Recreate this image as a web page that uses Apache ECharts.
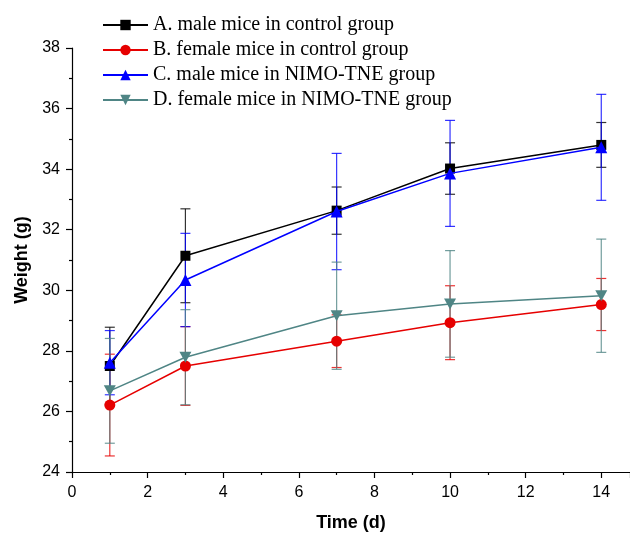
<!DOCTYPE html>
<html>
<head>
<meta charset="utf-8">
<script src="https://cdn.jsdelivr.net/npm/echarts@6/dist/echarts.min.js"></script>
<style>html,body{margin:0;padding:0;background:#fff}#c{width:630px;height:533px}</style>
</head>
<body>
<div id="c"></div>
<script>
const days = [1, 3, 7, 10, 14];
const seriesNames = [
  'A. male mice in control group',
  'B. female mice in control group',
  'C. male mice in NIMO-TNE group',
  'D. female mice in NIMO-TNE group'
];
const meanA = [27.50, 31.14, 32.63, 34.02, 34.80];
const errA  = [1.28, 1.55, 0.78, 0.85, 0.74];
const meanB = [26.21, 27.50, 28.32, 28.93, 29.53];
const errB  = [1.68, 1.30, 0.87, 1.22, 0.86];
const meanC = [27.61, 30.34, 32.60, 33.86, 34.72];
const errC  = [1.06, 1.54, 1.92, 1.75, 1.75];
const meanD = [26.68, 27.79, 29.16, 29.55, 29.82];
const errD  = [1.73, 1.57, 1.77, 1.76, 1.87];
const xTicks = [0, 2, 4, 6, 8, 10, 12, 14];
const yTicks = [24, 26, 28, 30, 32, 34, 36, 38];

const colors = ['#000000', '#e60000', '#0000ff', '#4f8585'];
const symbols = ['rect', 'circle', 'triangle', 'path://M0,0 L10,0 L5,9 Z'];
const symbolSizes = [10, 11, 12, [12, 11]];
const means = [meanA, meanB, meanC, meanD];
const errs = [errA, errB, errC, errD];

const series = [];
for (let s = 0; s < 4; s++) {
  const color = colors[s];
  series.push({
    type: 'custom',
    name: seriesNames[s] + ' err',
    data: days.map((d, i) => [d, means[s][i] - errs[s][i], means[s][i] + errs[s][i]]),
    renderItem: function (params, api) {
      const lo = api.coord([api.value(0), api.value(1)]);
      const hi = api.coord([api.value(0), api.value(2)]);
      const hw = 5;
      const st = { stroke: color, lineWidth: 1.2, opacity: 0.8 };
      return {
        type: 'group',
        children: [
          { type: 'line', shape: { x1: lo[0], y1: lo[1], x2: hi[0], y2: hi[1] }, style: st },
          { type: 'line', shape: { x1: lo[0] - hw, y1: lo[1], x2: lo[0] + hw, y2: lo[1] }, style: st },
          { type: 'line', shape: { x1: hi[0] - hw, y1: hi[1], x2: hi[0] + hw, y2: hi[1] }, style: st }
        ]
      };
    },
    z: 2,
    silent: true
  });
}
for (let s = 0; s < 4; s++) {
  series.push({
    type: 'line',
    name: seriesNames[s],
    data: days.map((d, i) => [d, means[s][i]]),
    symbol: symbols[s],
    symbolSize: symbolSizes[s],
    showAllSymbol: true,
    lineStyle: { color: colors[s], width: 1.5 },
    itemStyle: { color: colors[s] },
    z: 3 + s,
    animation: false
  });
}

const chart = echarts.init(document.getElementById('c'), null, { renderer: 'canvas' });
chart.setOption({
  animation: false,
  backgroundColor: '#ffffff',
  grid: { left: 72, top: 48, right: 0, bottom: 61, containLabel: false, outerBoundsMode: 'none' },
  legend: {
    data: seriesNames,
    orient: 'vertical',
    left: 97,
    top: 10,
    itemWidth: 45,
    itemHeight: 13,
    itemGap: 5,
    textStyle: { fontFamily: 'Liberation Serif', fontSize: 20, color: '#000', lineHeight: 20, padding: [0, 0, 0, 0] }
  },
  xAxis: {
    type: 'value',
    min: 0,
    max: 14.76,
    interval: 2,
    name: 'Time (d)',
    nameLocation: 'middle',
    nameGap: 42,
    nameTextStyle: { fontFamily: 'Liberation Sans', fontSize: 18, fontWeight: 'bold', color: '#000' },
    axisLine: { show: true, onZero: false, lineStyle: { color: '#000', width: 1.2 } },
    axisTick: { show: true, inside: false, length: 6, lineStyle: { color: '#000', width: 1.2 } },
    minorTick: { show: true, splitNumber: 2, length: 3, lineStyle: { color: '#000', width: 1.2 } },
    axisLabel: {
      fontFamily: 'Liberation Sans', fontSize: 16, color: '#000', margin: 13,
      showMaxLabel: false,
      formatter: v => (xTicks.indexOf(v) >= 0 ? String(v) : '')
    },
    splitLine: { show: false }
  },
  yAxis: {
    type: 'value',
    min: 24,
    max: 38,
    interval: 2,
    name: 'Weight (g)',
    nameLocation: 'middle',
    nameGap: 40,
    nameTextStyle: { fontFamily: 'Liberation Sans', fontSize: 18, fontWeight: 'bold', color: '#000' },
    axisLine: { show: true, onZero: false, lineStyle: { color: '#000', width: 1.2 } },
    axisTick: { show: true, inside: false, length: 6, lineStyle: { color: '#000', width: 1.2 } },
    minorTick: { show: true, splitNumber: 2, length: 3, lineStyle: { color: '#000', width: 1.2 } },
    axisLabel: {
      fontFamily: 'Liberation Sans', fontSize: 16, color: '#000', margin: 12,
      formatter: v => (yTicks.indexOf(v) >= 0 ? String(v) : '')
    },
    splitLine: { show: false }
  },
  series: series
});
</script>
</body>
</html>
